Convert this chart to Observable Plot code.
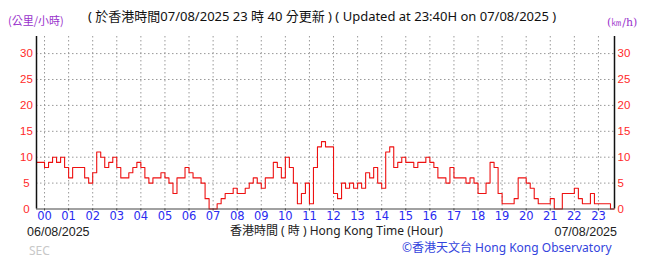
<!DOCTYPE html>
<html><head><meta charset="utf-8">
<script src="https://cdn.jsdelivr.net/npm/d3@7"></script>
<script src="https://cdn.jsdelivr.net/npm/@observablehq/plot@0.6"></script>
<style>
body{margin:0;background:#fff;}
#wrap{width:655px;height:259px;overflow:hidden;font-family:"Noto Sans","Noto Sans CJK TC",sans-serif;}
.band{position:relative;width:655px;}
.t{position:absolute;white-space:nowrap;line-height:1;}
</style></head><body>
<div id="wrap">
  <div class="band" id="head" style="height:30px">
    <div class="t" style="left:8px;top:15px;font-size:11px;color:#9932cc;font-family:'Noto Sans CJK TC',sans-serif">(公里/小時)</div>
    <div class="t" id="title" style="left:88px;top:10px;font-size:13px;color:#111;font-family:'Noto Sans','Noto Sans CJK TC',sans-serif"></div>
    <div class="t" style="left:607px;top:17px;font-size:11px;color:#9932cc;font-family:'DejaVu Serif',serif">(㎞/h)</div>
  </div>
  <div id="chart"></div>
  <div class="band" id="foot" style="height:37px">
    <div class="t" id="dl" style="left:27px;top:4px;font-size:12.5px;color:#222;font-family:'Liberation Sans',sans-serif"></div>
    <div class="t" id="xl" style="left:230px;top:3px;font-size:12px;color:#222"></div>
    <div class="t" id="dr" style="right:38px;top:4px;font-size:12.5px;color:#222;font-family:'Liberation Sans',sans-serif"></div>
    <div class="t" style="left:29px;top:23px;font-size:12px;color:#c8c8c8">SEC</div>
    <div class="t" id="cr" style="left:402px;top:20px;font-size:12px;color:#3344dd"></div>
  </div>
</div>
<script>
// 10-minute mean wind speed (km/h), starting 23:40 06/08/2025
const speed = [
  9, 9, 8, 9,10, 9,10, 8, 6, 8, 8, 8, 6, 5, 7,11,10, 8, 9,10, 8, 6, 6, 7,
  8, 9, 8, 6, 5, 6, 6, 7, 6, 5, 3, 6, 6, 8, 7, 6, 6, 5, 2, 0, 0, 1, 2, 3,
  3, 4, 3, 3, 4, 5, 6, 5, 4, 6, 6, 9, 8, 6,10, 8, 5, 1, 3, 5, 1, 8,12,13,
 12,12, 3, 2, 5, 4, 5, 4, 5, 4, 7, 6, 8, 5, 4,11,12, 8, 9,10, 9, 9, 8, 9,
  9,10, 9, 8, 6, 6, 5, 8, 6, 6, 6, 5, 6, 5, 3, 3, 5, 9, 8, 3, 1, 1, 1, 2,
  6, 6, 5, 4, 2, 1, 1, 1, 2, 0, 0, 3, 3, 3, 4, 2, 1, 1, 3, 1, 1, 1, 1, 0
];
const startHour = -1/3;          // 23:40 of the previous day
const endHour = 23 + 2/3;        // 23:40
const hourTicks = d3.range(0, 24);
const hourLabels = hourTicks.map(h => String(h).padStart(2, "0"));
const speedTicks = [0, 5, 10, 15, 20, 25, 30];
const titleText = "( 於香港時間07/08/2025 23 時 40 分更新 ) ( Updated at 23:40H on 07/08/2025 )";
const dateLeft = "06/08/2025";
const dateRight = "07/08/2025";
const xTitle = "香港時間 ( 時 ) Hong Kong Time (Hour)";
const credit = "©香港天文台 Hong Kong Observatory";

document.getElementById("title").textContent = titleText;
document.getElementById("dl").textContent = dateLeft;
document.getElementById("dr").textContent = dateRight;
document.getElementById("xl").textContent = xTitle;
document.getElementById("cr").textContent = credit;

const series = speed.map((v, i) => ({t: startHour + i / 6, v}));
series.push({t: endHour, v: speed[speed.length - 1]});

const grid = {stroke: "#999", strokeOpacity: 1, strokeDasharray: "1.5,2.5"};
const chart = Plot.plot({
  width: 655,
  height: 192,
  marginTop: 6,
  marginBottom: 13.5,
  marginLeft: 36,
  marginRight: 41,
  style: {fontFamily: "'DejaVu Sans', sans-serif", background: "#fff"},
  x: {domain: [startHour, endHour], label: null},
  y: {domain: [0, 33.3], label: null},
  marks: [
    Plot.gridX(hourTicks, grid),
    Plot.gridY(speedTicks.slice(1), grid),
    Plot.line(series, {x: "t", y: "v", curve: "step-after", stroke: "#ee1111", strokeWidth: 1.1}),
    Plot.ruleY([0], {stroke: "#444", strokeWidth: 1.2}),
    Plot.ruleX([startHour, endHour], {stroke: "#111", strokeWidth: 1.5}),
    Plot.axisY(speedTicks, {anchor: "left", label: null, tickSize: 0, tickPadding: 10, textAnchor: "middle",
      fill: "#ff2a2a", fontSize: 11.5, fontFamily: "'Liberation Sans', sans-serif"}),
    Plot.axisY(speedTicks, {anchor: "right", label: null, tickSize: 0, tickPadding: 3,
      fill: "#ff2a2a", fontSize: 11.5, fontFamily: "'Liberation Sans', sans-serif"}),
    Plot.axisX(hourTicks, {anchor: "bottom", label: null, tickSize: 2, tickPadding: 1, stroke: "#444",
      tickFormat: (d, i) => hourLabels[i], fill: "#2b2bf0", fontSize: 11.5})
  ]
});
document.getElementById("chart").appendChild(chart);
</script>
</body></html>
